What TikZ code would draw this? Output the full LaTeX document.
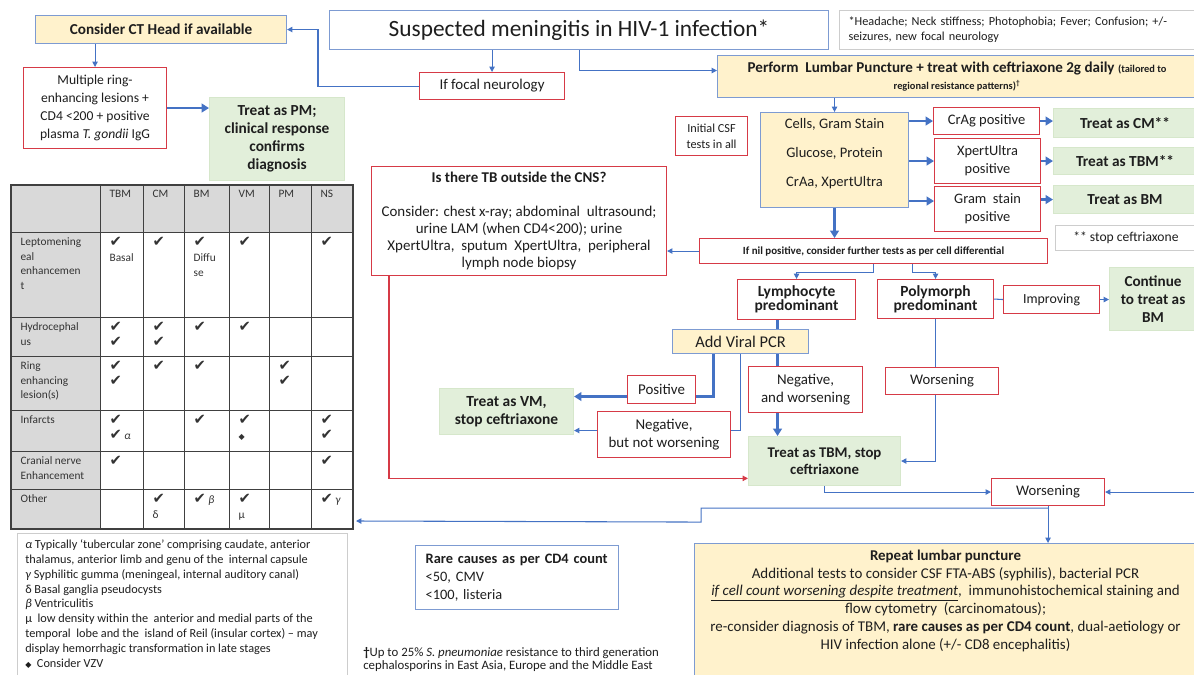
\documentclass[tikz,border=0pt]{standalone}
\usepackage{fontspec}
\setmainfont{Carlito}
\newfontfamily\symfont{DejaVu Sans}
\usetikzlibrary{arrows.meta}

\definecolor{lnblue}{RGB}{68,114,196}
\definecolor{bdblue}{RGB}{125,155,210}
\definecolor{bdred}{RGB}{214,58,70}
\definecolor{fyellow}{RGB}{255,242,204}
\definecolor{fgreen}{RGB}{226,239,218}
\definecolor{bgreen}{RGB}{214,231,203}
\definecolor{fgray}{RGB}{217,217,217}
\definecolor{bgray}{RGB}{205,205,205}
\definecolor{txt}{RGB}{30,30,30}

\newcommand{\fsz}[2]{\fontsize{#1}{#2}\selectfont}
\newcommand{\chk}{{\symfont\fontsize{11}{10}\selectfont ✔}}
\newcommand{\dia}{{\symfont\fontsize{6}{6}\selectfont ◆}}

\tikzset{sz/.style 2 args={minimum width=#1*0.75pt, minimum height=#2*0.75pt}}

\begin{document}
\begin{tikzpicture}[
	x=0.75pt, y=-0.75pt,
	font=\fsz{11.2}{13.5},
	>={Triangle[length=4pt,width=4pt]},
	box/.style={anchor=north west, align=center, inner sep=1.5pt, line width=0.8pt, text=txt},
	cond/.style={box, draw=bdred, fill=white},
	act/.style={box, draw=bdblue, fill=fyellow},
	treat/.style={box, draw=bgreen, fill=fgreen, font=\fsz{11.5}{13.5}\bfseries},
	info/.style={box, draw=bdblue, fill=white},
	note/.style={box, draw=bgray, fill=white, line width=0.6pt},
	flow/.style={->, lnblue, line width=0.8pt},
	link/.style={lnblue, line width=0.8pt},
	strong/.style={-{Triangle[length=5.5pt,width=6.5pt]}, lnblue, line width=2pt},
	strongline/.style={lnblue, line width=2pt},
	tbflow/.style={->, bdred, line width=0.8pt},
	tblline/.style={black!75, line width=0.7pt},
	cell/.style={anchor=north west, align=left, inner xsep=7pt, inner ysep=4pt,
		font=\fsz{8.5}{11}, text=black!80},
]
\fill[white] (0,0) rectangle (1194,674);
\useasboundingbox (0,0) rectangle (1194,674);

% ---- title row ----
\node[info, sz={499}{39}, font=\fsz{17.5}{20}] (title) at (329,10) {Suspected meningitis in HIV-1 infection*};
\node[note, sz={357}{39}, align=left, inner xsep=6.75pt, text width=254pt, font=\fsz{9.2}{11}] (symp) at (839,10)
	{*Headache; Neck stiffness; Photophobia; Fever; Confusion; +/-\\seizures, new focal neurology};
\node[act, sz={251}{28}, font=\fsz{11.4}{13}\bfseries] (ct) at (35,15) {Consider CT Head if available};
\node[cond, sz={145}{27}] (focal) at (419,72) {If focal neurology};
\node[act, sz={479}{42}, font=\fsz{11.3}{13}] (lp) at (717,55)
	{\textbf{Perform\ \ Lumbar Puncture + treat with ceftriaxone 2g daily} {\fsz{7.8}{9}\bfseries(tailored to}\\
	 {\fsz{7.8}{9}\bfseries regional resistance patterns)\textsuperscript{\textdagger}}};

% ---- focal neurology branch ----
\node[cond, sz={143}{81}, font=\fsz{10.2}{13.5}] (ring) at (23,67)
	{Multiple ring-\\enhancing lesions +\\CD4 <200 + positive\\plasma \textit{T. gondii} IgG};
\node[treat, sz={135}{83}, font=\fsz{11.5}{13.5}\bfseries] (pm) at (209,97)
	{Treat as PM;\\clinical response\\confirms\\diagnosis};

% ---- initial CSF ----
\node[act, sz={148}{95}, font=\fsz{10.9}{21.75}, text depth=12pt] (csf) at (760,112)
	{Cells, Gram Stain\\Glucose, Protein\\CrAa, XpertUltra};
\node[cond, sz={72}{39}, font=\fsz{9.2}{12}] (init) at (675,116) {Initial CSF\\tests in all};
\node[cond, sz={106}{27}, font=\fsz{10.9}{13}] (crag) at (933,107) {CrAg positive};
\node[cond, sz={106}{45}, font=\fsz{10.8}{13.5}] (xpert) at (934,138) {XpertUltra\\positive};
\node[cond, sz={106}{45}, font=\fsz{10.8}{13.5}] (gram) at (934,186) {Gram\ \ stain\\positive};
\node[treat, sz={143}{29}] (tcm) at (1053,108) {Treat as CM**};
\node[treat, sz={143}{27}] (ttbm) at (1053,147) {Treat as TBM**};
\node[treat, sz={143}{28}] (tbm) at (1053,185) {Treat as BM};
\node[note, sz={141}{25}, font=\fsz{10.2}{12}] (stop) at (1055,225) {** stop ceftriaxone};
\node[cond, sz={348}{25}, font=\fsz{8.2}{10}\bfseries] (nil) at (699,238)
	{If nil positive, consider further tests as per cell differential};

% ---- TB outside the CNS ----
\node[cond, sz={295}{109}, font=\fsz{11.2}{12.8}] (tb) at (371,166)
	{\textbf{Is there TB outside the CNS?}\\[12.5pt]
	 Consider: chest x-ray; abdominal\ \ ultrasound;\\urine LAM (when CD4<200); urine\\
	 XpertUltra,\ \ sputum\ \ XpertUltra,\ \ peripheral\\lymph node biopsy};

% ---- cell differential ----
\node[cond, sz={118}{40}, font=\fsz{11.6}{10.5}\bfseries] (lymph) at (737,279) {Lymphocyte\\predominant};
\node[cond, sz={116}{39}, font=\fsz{11.6}{10.5}\bfseries] (poly) at (877,279) {Polymorph\\predominant};
\node[cond, sz={96}{28}, font=\fsz{10.4}{12}] (impr) at (1003,285) {Improving};
\node[treat, sz={87}{63}, font=\fsz{11.4}{13.5}\bfseries] (cont) at (1109,267) {Continue\\to treat as\\BM};
\node[act, sz={136}{24}, font=\fsz{12.3}{13}] (viral) at (672,329) {Add Viral PCR};
\node[cond, sz={114}{46}, font=\fsz{11.2}{13.5}] (negw) at (748,366) {Negative,\\and worsening};
\node[cond, sz={68}{28}] (pos) at (627,375) {Positive};
\node[treat, sz={134}{46}, font=\fsz{11.6}{13.5}\bfseries] (vm) at (439,388) {Treat as VM,\\stop ceftriaxone};
\node[cond, sz={133}{46}, font=\fsz{11.2}{13.5}] (negnw) at (597,411) {Negative,\\but not worsening};
\node[treat, sz={152}{49}, font=\fsz{11.1}{12.5}\bfseries] (tbmstop) at (748,436) {Treat as TBM, stop\\ceftriaxone};
\node[cond, sz={113}{27}, font=\fsz{11}{13}] (worsa) at (885,367) {Worsening};
\node[cond, sz={113}{27}, font=\fsz{11}{13}] (worsb) at (991,478) {Worsening};

% ---- bottom row ----
\node[info, sz={203}{64}, align=left, inner xsep=7.5pt, text width=137pt, font=\fsz{10.8}{13.5}] (rare) at (415,545)
	{\textbf{Rare causes as per CD4 count}\\<50, CMV\\<100, listeria};
\node[anchor=north west, align=left, inner sep=0pt, font=\fsz{9.6}{10}, text=txt] (dag) at (363,647)
	{\textbf{\textdagger}Up to 25\% \textit{S. pneumoniae} resistance to third generation\\
	 cephalosporins in East Asia, Europe and the Middle East};
\node[act, sz={502}{140}] (rlp) at (694,543) {};
\node[anchor=north, align=center, inner sep=0pt, font=\fsz{11.2}{13.3}, text=txt] (rlptxt) at ([yshift=-5pt]rlp.north)
	{\textbf{Repeat lumbar puncture}\\
	 Additional tests to consider CSF FTA-ABS (syphilis), bacterial PCR\\
	 \underline{\textit{if cell count worsening despite treatment}},\ \ immunohistochemical staining and\\
	 flow cytometry\ \ (carcinomatous);\\
	 re-consider diagnosis of TBM, \textbf{rare causes as per CD4 count}, dual-aetiology or\\
	 HIV infection alone (+/- CD8 encephalitis)};
\node[note, sz={330}{150}] (gk) at (17,533) {};
\node[anchor=north west, align=left, inner sep=0pt, font=\fsz{9.2}{11.1}, text=txt] (gktxt) at ([xshift=6pt,yshift=-5pt]gk.north west)
	{\textit{α} Typically ‘tubercular zone’ comprising caudate, anterior\\
	 thalamus, anterior limb and genu of the\ \ internal capsule\\
	 \textit{γ} Syphilitic gumma (meningeal, internal auditory canal)\\
	 δ Basal ganglia pseudocysts\\
	 \textit{β} Ventriculitis\\
	 μ\ \ low density within the\ \ anterior and medial parts of the\\
	 temporal\ \ lobe and the\ \ island of Reil (insular cortex) -- may\\
	 display hemorrhagic transformation in late stages\\
	 \dia\ \ Consider VZV};

% ---- differential table ----
\fill[fgray] (11,185) rectangle (353,232);
\fill[fgray] (11,232) rectangle (100,529);
\foreach \xx in {11,100,143,184,229,269,311,353}
	\draw[tblline] (\xx,185) -- (\xx,529);
\foreach \yy in {185,232,317,356,410,451,489,529}
	\draw[tblline] (11,\yy) -- (353,\yy);
\draw[tblline, line width=1.2pt] (11,185) rectangle (353,529);
\foreach \xx/\hd in {100/TBM,143/CM,184/BM,229/VM,269/PM,311/NS}
	\node[cell] (h\hd) at (\xx,185) {\hd};
\foreach \yy/\rw/\txt in {232/lep/{Leptomening\\eal\\enhancemen\\t}, 317/hyd/{Hydrocephal\\us},
	356/rng/{Ring\\enhancing\\lesion(s)}, 410/inf/{Infarcts}, 451/cn/{Cranial nerve\\Enhancement}, 489/oth/{Other}}
	\node[cell] (r\rw) at (11,\yy) {\txt};
\node[cell] (lepTBM) at (100,232) {\chk\\Basal};
\node[cell] (lepCM) at (143,232) {\chk};
\node[cell] (lepBM) at (184,232) {\chk\\Diffu\\se};
\node[cell] (lepVM) at (229,232) {\chk};
\node[cell] (lepNS) at (311,232) {\chk};
\node[cell] (hydTBM) at (100,317) {\chk\\\chk};
\node[cell] (hydCM) at (143,317) {\chk\\\chk};
\node[cell] (hydBM) at (184,317) {\chk};
\node[cell] (hydVM) at (229,317) {\chk};
\node[cell] (rngTBM) at (100,356) {\chk\\\chk};
\node[cell] (rngCM) at (143,356) {\chk};
\node[cell] (rngBM) at (184,356) {\chk};
\node[cell] (rngPM) at (269,356) {\chk\\\chk};
\node[cell] (infTBM) at (100,410) {\chk\\\chk\ \textit{α}};
\node[cell] (infBM) at (184,410) {\chk};
\node[cell] (infVM) at (229,410) {\chk\\\dia};
\node[cell] (infNS) at (311,410) {\chk\\\chk};
\node[cell] (cnTBM) at (100,451) {\chk};
\node[cell] (cnNS) at (311,451) {\chk};
\node[cell] (othCM) at (143,489) {\chk\\δ};
\node[cell] (othBM) at (184,489) {\chk\ \textit{β}};
\node[cell] (othVM) at (229,489) {\chk\\μ};
\node[cell] (othNS) at (311,489) {\chk\ \textit{γ}};

% ---- connectors ----
\draw[flow] (focal.north |- title.south) -- (focal.north);
\draw[flow] (title.south) |- ([yshift=4.5pt]lp.west);
\draw[flow] (focal.west) -- ++(-101,0) |- (ct.east);
\draw[flow] (ct.south -| ring.north) -- (ring.north);
\draw[strong] (ring.east) -- (ring.east -| pm.west);
\draw[flow] (lp.south -| csf.north) -- (csf.north);
\coordinate (gy) at ([yshift=6pt]gram.west);
\draw[strong] (csf.east |- crag.west) -- (crag.west);
\draw[strong] (csf.east |- xpert.west) -- (xpert.west);
\draw[strong] (csf.east |- gy) -- (gy);
\draw[strong] (crag.east) -- (crag.east -| tcm.west);
\draw[strong] (xpert.east) -- (xpert.east -| ttbm.west);
\draw[strong] (gram.east |- tbm.west) -- (tbm.west);
\draw[strong] (csf.south) -- (csf.south |- nil.north);
\draw[flow] (nil.west) -- (nil.west -| tb.east);
\draw[flow] (nil.south) -- ++(0,8) -| (lymph.north);
\draw[flow] ([xshift=29pt]nil.south) -- ++(0,8) -| (poly.north);

\coordinate (colA) at ([xshift=-14.25pt]lymph.south);
\draw[strongline] (colA) -- (colA |- viral.north);
\draw[strongline] (viral.south -| colA) -- (negw.north -| colA);
\draw[strong] (negw.south -| colA) -- (tbmstop.north -| colA);
\coordinate (colB) at ([xshift=-20.25pt]viral.south);
\coordinate (py) at ([yshift=-5.25pt]pos.east);
\draw[strongline] (colB) |- (py);
\draw[strong] (py -| pos.west) -- (py -| vm.east);
\coordinate (ny) at ([yshift=3pt]negnw.east);
\draw[link] (viral.south) |- (ny);
\draw[flow] (ny -| negnw.west) -- (ny -| vm.east);

\draw[link] (poly.south) -- (poly.south |- worsa.north);
\draw[flow] (poly.south |- worsa.south) |- (tbmstop.east);
\draw[link] (poly.east) -- (impr.west);
\draw[flow] (impr.east) -- (impr.east -| cont.west);

\coordinate (ry) at ([yshift=-13pt]tbmstop.west);
\draw[tbflow] ([xshift=13.5pt]tb.south west) |- (ry);

\draw[flow] (tbmstop.south) |- (worsb.west);
\coordinate (redge) at (1194,0);
\draw[flow] (redge |- worsb.east) -- (worsb.east);
\draw[flow] (worsb.south) -- (worsb.south |- rlp.north);
\coordinate (tblE) at (356,521);
\draw[flow] (worsb.south) ++(0,2) -| ++(-347,14) -- (tblE);

\end{tikzpicture}
\end{document}
